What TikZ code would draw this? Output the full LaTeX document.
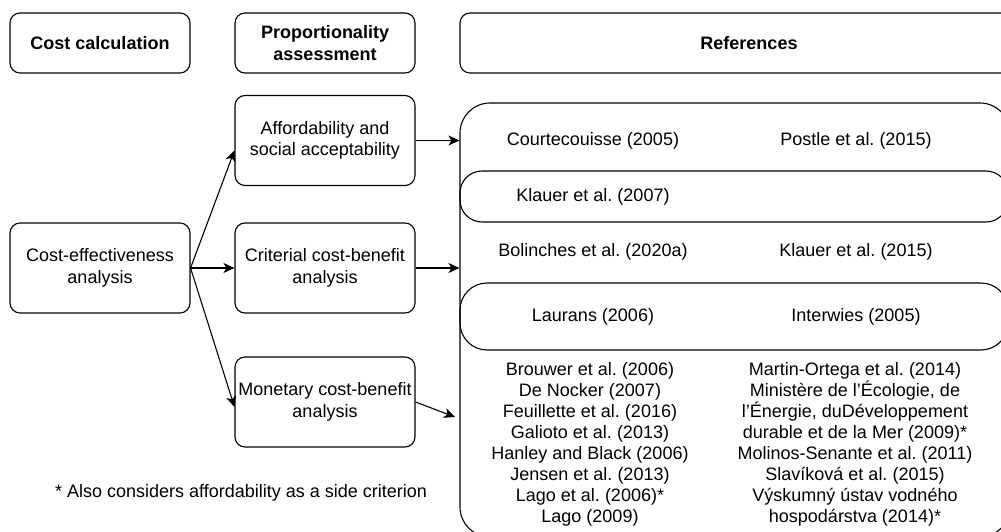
\documentclass[tikz,border=0pt]{standalone}
\usepackage{fontspec}
\setmainfont{Liberation Sans}
\usetikzlibrary{arrows.meta,calc}
\frenchspacing
\begin{document}
\begin{tikzpicture}[x=1pt,y=-1pt,
  every node/.style={font=\fontsize{18}{21.5}\selectfont, text=black},
  box/.style={draw, line width=1.1pt, rounded corners=10pt, minimum width=180pt, minimum height=90pt, inner sep=0pt, align=center},
  head/.style={box, minimum height=60pt, font=\fontsize{18}{22}\selectfont\bfseries},
  band/.style={draw, line width=1.1pt, minimum width=548pt, inner sep=0pt},
  reftext/.style={align=center, inner sep=0pt, font=\fontsize{18}{21}\selectfont},
  arr/.style={-{Stealth[length=11pt,width=10pt,inset=3pt]}, line width=1.1pt},
]
\useasboundingbox (0,0) rectangle (1001,532);
\clip (0,0) rectangle (1001,532);

% header row
\node[head] (hcost) at (100,43) {Cost calculation};
\node[head] (hprop) at (325,43) {Proportionality\\assessment};
\node[head, minimum width=578pt] (hrefs) at (749,43) {References};

% left column boxes
\node[box] (ce) at (100,268) {Cost-effectiveness\\analysis};
\node[box] (aff) at (325,140.5) {Affordability and\\social acceptability};
\node[box] (crit) at (325,268) {Criterial cost-benefit\\analysis};
\node[box] (mon) at (325,402) {Monetary cost-benefit\\analysis};

% references container and bands
\node[draw, line width=1.1pt, rounded corners=30pt, minimum width=550pt, minimum height=434pt, inner sep=0pt] (refs) at (735,320) {};
\node[band, rounded corners=22pt, minimum height=51pt] (band1) at (734,196.5) {};
\node[band, rounded corners=27pt, minimum height=67pt] (band2) at (734,316.5) {};

% reference texts
\node[reftext] (r1a) at (593,141) {Courtecouisse (2005)};
\node[reftext] (r1b) at (856,141) {Postle et al. (2015)};
\node[reftext] (r2a) at (593,196.5) {Klauer et al. (2007)};
\node[reftext] (r3a) at (593,252) {Bolinches et al. (2020a)};
\node[reftext] (r3b) at (856,252) {Klauer et al. (2015)};
\node[reftext] (r4a) at (593,316.5) {Laurans (2006)};
\node[reftext] (r4b) at (856,316.5) {Interwies (2005)};
\node[reftext] (r5a) at (590,444) {Brouwer et al. (2006)\\De Nocker (2007)\\Feuillette et al. (2016)\\Galioto et al. (2013)\\Hanley and Black (2006)\\Jensen et al. (2013)\\Lago et al. (2006)*\\Lago (2009)};
\node[reftext] (r5b) at (855,444) {Martin-Ortega et al. (2014)\\Ministère de l’Écologie, de\\l’Énergie, duDéveloppement\\durable et de la Mer (2009)*\\Molinos-Senante et al. (2011)\\Slavíková et al. (2015)\\Výskumný ústav vodného\\hospodárstva (2014)*};

% footnote
\node[reftext] (note) at (241,493) {* Also considers affordability as a side criterion};

% connectors
\draw[arr] (ce.east) -- ([yshift=-10pt]aff.west);
\draw[arr] (ce.east) -- (crit.west);
\draw[arr] (ce.east) -- ([yshift=-5pt]mon.west);
\draw[arr] (aff.east) -- (aff.east -| refs.west);
\draw[arr] (crit.east) -- (crit.east -| refs.west);
\coordinate (monend) at (455,417);
\draw[arr] (mon.east) -- (monend);
\end{tikzpicture}
\end{document}
